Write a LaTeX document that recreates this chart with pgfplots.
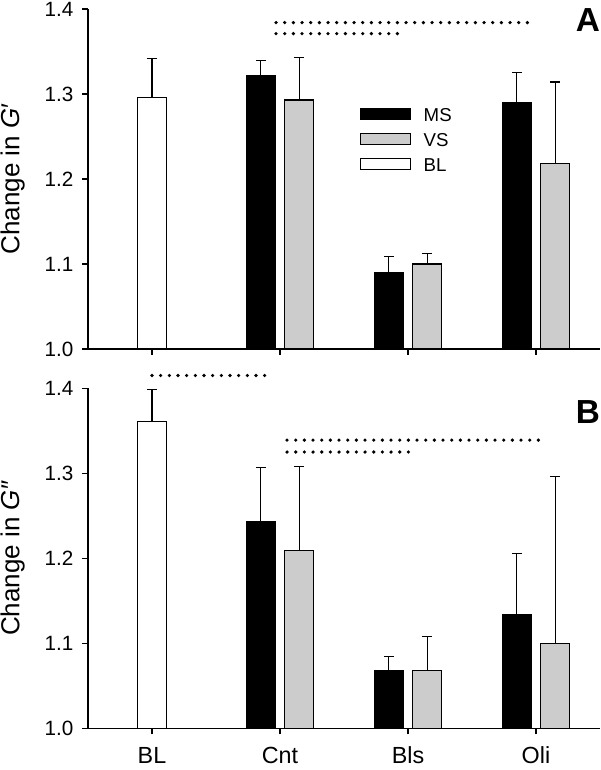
\documentclass[border=0pt]{standalone}
\usepackage{fontspec}
\setmainfont{Liberation Sans}
\usepackage{pgfplots}
\pgfplotsset{compat=1.18}
\definecolor{vsgray}{gray}{0.8}
\pgfplotsset{
  panel/.style={
    scale only axis, width=384pt, height=255pt, anchor=south west,
    xmin=-0.5, xmax=3.5, ymin=1.0, ymax=1.4,
    axis x line*=bottom, axis y line*=left,
    axis line style={line width=1.1pt, black},
    xtick={0,1,2,3}, ytick={1.0,1.1,1.2,1.3,1.4},
    tick align=outside, major tick length=4.5pt,
    every tick/.style={black, line width=1pt},
    /pgf/number format/assume math mode=true,
    yticklabel style={font=\fontsize{15.5}{18}\selectfont, anchor=east, xshift=-3pt, /pgf/number format/.cd, fixed, fixed zerofill, precision=1},
    xticklabel style={font=\fontsize{17.5}{20}\selectfont, yshift=-6pt},
    ylabel style={at={(axis description cs:-0.1338,0.5)}, anchor=base},
    ybar, bar width=21.75pt, bar shift=0pt,
    axis on top,
  },
  ann/.style={scale only axis, width=384pt, height=255pt, anchor=south west,
    xmin=-0.5, xmax=3.5, ymin=1.0, ymax=1.4, hide axis, clip=false},
  barbase/.style={draw=black, line width=1pt,
    error bars/y dir=plus, error bars/y explicit,
    error bars/error bar style={line width=0.9pt, black, solid},
    error bars/error mark options={rotate=90, line width=0.9pt, black, mark size=3.6pt}},
  dotline/.style={sharp plot, black, line width=2.7pt, line cap=round,
    dash pattern=on 0pt off 6.5pt, forget plot, mark=none},
}
\begin{document}
\begin{tikzpicture}
\useasboundingbox (0,0) rectangle (450pt,577.5pt);
% ---------- Panel A ----------
\begin{axis}[panel, at={(66pt,315.75pt)}, xticklabels={},
  ylabel={\fontsize{19.5}{22}\selectfont Change in \textit{G}′},
  legend style={draw=none, fill=none, at={(0.531,0.7097)}, anchor=north west,
    font=\fontsize{14}{16}\selectfont, inner sep=0pt, row sep=8.75pt,
    nodes={inner sep=0pt, text height=10pt, text depth=0pt}},
  legend cell align=left]
\addplot[barbase, fill=black,
  legend image code/.code={\draw[fill=black, draw=black, line width=1pt] (0pt,-3.5pt) rectangle (37.5pt,4.5pt); \path (46.7pt,0pt);}]
  coordinates {(0.85,1.321) +- (0,0.018) (1.85,1.090) +- (0,0.019) (2.85,1.290) +- (0,0.035)};
\addlegendentry{MS}
\addplot[barbase, fill=vsgray,
  legend image code/.code={\draw[fill=vsgray, draw=black, line width=1pt] (0pt,-3.5pt) rectangle (37.5pt,4.5pt); \path (46.7pt,0pt);}]
  coordinates {(1.15,1.293) +- (0,0.050) (2.15,1.100) +- (0,0.0125) (3.15,1.218) +- (0,0.096)};
\addlegendentry{VS}
\addplot[barbase, fill=white,
  legend image code/.code={\draw[fill=white, draw=black, line width=1pt] (0pt,-3.5pt) rectangle (37.5pt,4.5pt); \path (46.7pt,0pt);}]
  coordinates {(0,1.296) +- (0,0.046)};
\addlegendentry{BL}
\end{axis}
\begin{axis}[ann, at={(66pt,315.75pt)}]
\addplot[dotline] coordinates {(0.969,1.384) (2.953,1.384)};
\addplot[dotline] coordinates {(0.969,1.371) (1.938,1.371)};
\node[font=\fontsize{25}{28}\selectfont\bfseries] at (axis cs:3.406,1.387) {A};
\end{axis}
% ---------- Panel B ----------
\begin{axis}[panel, at={(66pt,31.3pt)}, xticklabels={BL,Cnt,Bls,Oli},
  ylabel={\fontsize{19.5}{22}\selectfont Change in \textit{G}″}]
\addplot[barbase, fill=black]
  coordinates {(0.85,1.243) +- (0,0.064) (1.85,1.068) +- (0,0.016) (2.85,1.134) +- (0,0.072)};
\addplot[barbase, fill=vsgray]
  coordinates {(1.15,1.209) +- (0,0.099) (2.15,1.068) +- (0,0.040) (3.15,1.100) +- (0,0.196)};
\addplot[barbase, fill=white]
  coordinates {(0,1.361) +- (0,0.038)};
\end{axis}
\begin{axis}[ann, at={(66pt,31.3pt)}]
\addplot[dotline] coordinates {(0,1.415) (0.914,1.415)};
\addplot[dotline] coordinates {(1.055,1.339) (3.037,1.339)};
\addplot[dotline] coordinates {(1.055,1.325) (2.029,1.325)};
\node[font=\fontsize{25}{28}\selectfont\bfseries] at (axis cs:3.406,1.372) {B};
\end{axis}
\end{tikzpicture}
\end{document}
